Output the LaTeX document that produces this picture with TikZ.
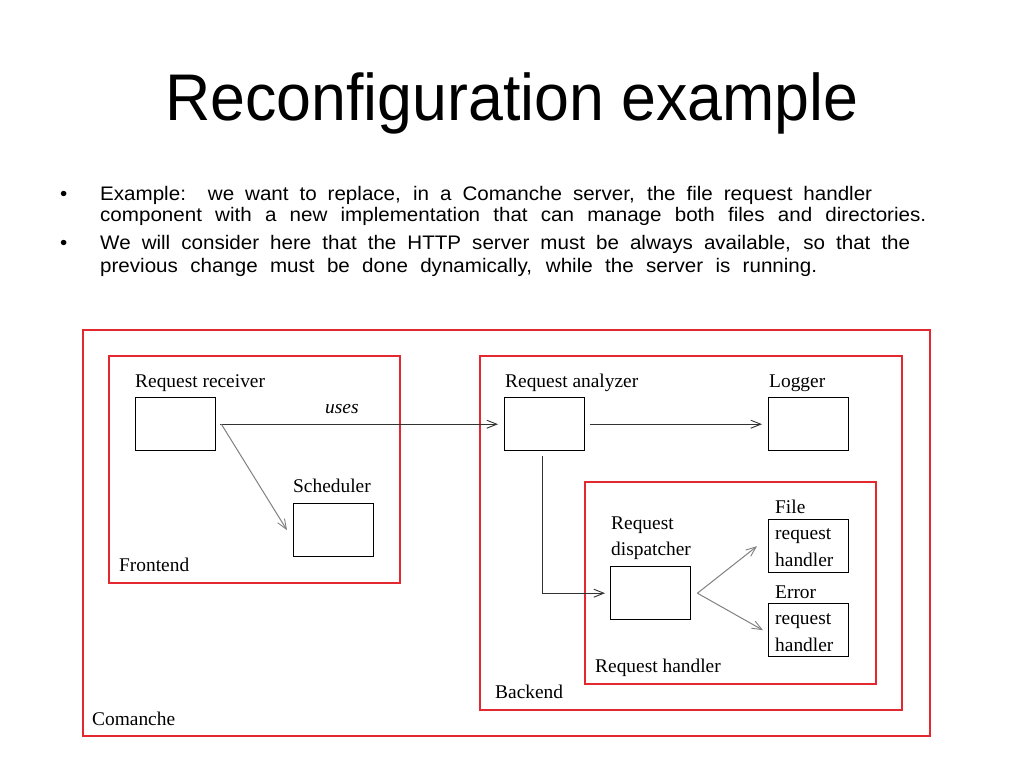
\documentclass[tikz,border=0pt]{standalone}
\usepackage{fontspec}
\setmainfont{Liberation Serif}
\newfontfamily\titlefont[FakeStretch=0.95]{Liberation Sans}
\newfontfamily\slidefont[FakeStretch=1.05]{Liberation Sans}
\usetikzlibrary{arrows.meta}
\definecolor{boxred}{RGB}{228,40,48}
\definecolor{linegray}{RGB}{50,50,50}
\newcommand{\bw}{80pt}
\newcommand{\bh}{53pt}

\begin{document}
\begin{tikzpicture}[x=1pt,y=-1pt,
    part/.style={draw, rectangle, anchor=north west, minimum width=\bw, minimum height=\bh, line width=1.4pt, inner sep=0pt},
    frame/.style={draw=boxred, rectangle, anchor=north west, line width=1.6pt, inner sep=0pt},
    lbl/.style={anchor=base west, inner sep=0pt, font=\fontsize{19.4}{22}\selectfont},
    line/.style={anchor=base west, inner sep=0pt, font=\slidefont\fontsize{19.6}{22}\selectfont},
    link/.style={draw=linegray, line width=1pt, -{Straight Barb[length=10pt,width=8pt,line width=0.9pt]}}]
    \useasboundingbox (0,0) rectangle (1024,768);

    % Title and bullets
    \node[anchor=base, inner sep=0pt, font=\titlefont\fontsize{66}{72}\selectfont] (title) at (512,120) {Reconfiguration example};
    \node[line] (dot-1) at (60,200) {•};
    \node[line] (line-1) at (100,200) {\makebox[772pt][s]{Example:\ \ we want to replace, in a Comanche server, the file request handler}};
    \node[line] (line-2) at (100,221) {\makebox[826pt][s]{component with a new implementation that can manage both files and directories.}};
    \node[line] (dot-2) at (60,249) {•};
    \node[line] (line-3) at (100,249) {\makebox[810pt][s]{We will consider here that the HTTP server must be always available, so that the}};
    \node[line] (line-4) at (100,272) {\makebox[717pt][s]{previous change must be done dynamically, while the server is running.}};

    % Composite frames
    \node[frame, minimum width=847pt, minimum height=406pt] (comanche) at (82,329) {};
    \node[frame, minimum width=291pt, minimum height=227pt] (frontend) at (108,355) {};
    \node[frame, minimum width=422pt, minimum height=354pt] (backend) at (479,355) {};
    \node[frame, minimum width=291pt, minimum height=202pt] (handler) at (584,481) {};

    % Components
    \node[part] (box-recv) at (135,397) {};
    \node[part] (box-sched) at (293,503) {};
    \node[part] (box-ana) at (504,397) {};
    \node[part] (box-log) at (768,397) {};
    \node[part] (box-disp) at (610,566) {};
    \node[part] (box-file) at (768,519) {};
    \node[part] (box-err) at (768,603) {};

    % Labels
    \node[lbl] (lbl-recv) at (135,387) {Request receiver};
    \node[lbl] (lbl-uses) at (325,413) {\itshape uses};
    \node[lbl] (lbl-sched) at (293,492) {Scheduler};
    \node[lbl] (lbl-front) at (119,571) {Frontend};
    \node[lbl] (lbl-ana) at (505,387) {Request analyzer};
    \node[lbl] (lbl-log) at (769,387) {Logger};
    \node[lbl] (lbl-disp-1) at (611,529) {Request};
    \node[lbl] (lbl-disp-2) at (611,555) {dispatcher};
    \node[lbl] (lbl-file) at (775,513) {File};
    \node[lbl] (lbl-file-1) at (775,539) {request};
    \node[lbl] (lbl-file-2) at (775,566) {handler};
    \node[lbl] (lbl-err) at (775,598) {Error};
    \node[lbl] (lbl-err-1) at (775,624) {request};
    \node[lbl] (lbl-err-2) at (775,651) {handler};
    \node[lbl] (lbl-handler) at (595,672) {Request handler};
    \node[lbl] (lbl-back) at (495,698) {Backend};
    \node[lbl] (lbl-com) at (92,725) {Comanche};

    % Bindings
    \draw[link] ([xshift=4pt]box-recv.east) -- ([xshift=-6pt]box-ana.west);
    \draw[link, draw=gray] ([xshift=5pt]box-recv.east) -- ([xshift=-6pt]box-sched.west);
    \draw[link] ([xshift=5pt]box-ana.east) -- ([xshift=-6pt]box-log.west);
    \draw[link] ([xshift=-2pt,yshift=-5pt]box-ana.south) |- ([xshift=-5pt]box-disp.west);
    \draw[link, draw=gray] ([xshift=6pt]box-disp.east) -- ([xshift=-11pt]box-file.west);
    \draw[link, draw=gray] ([xshift=6pt]box-disp.east) -- ([xshift=-5pt]box-err.west);
\end{tikzpicture}
\end{document}
